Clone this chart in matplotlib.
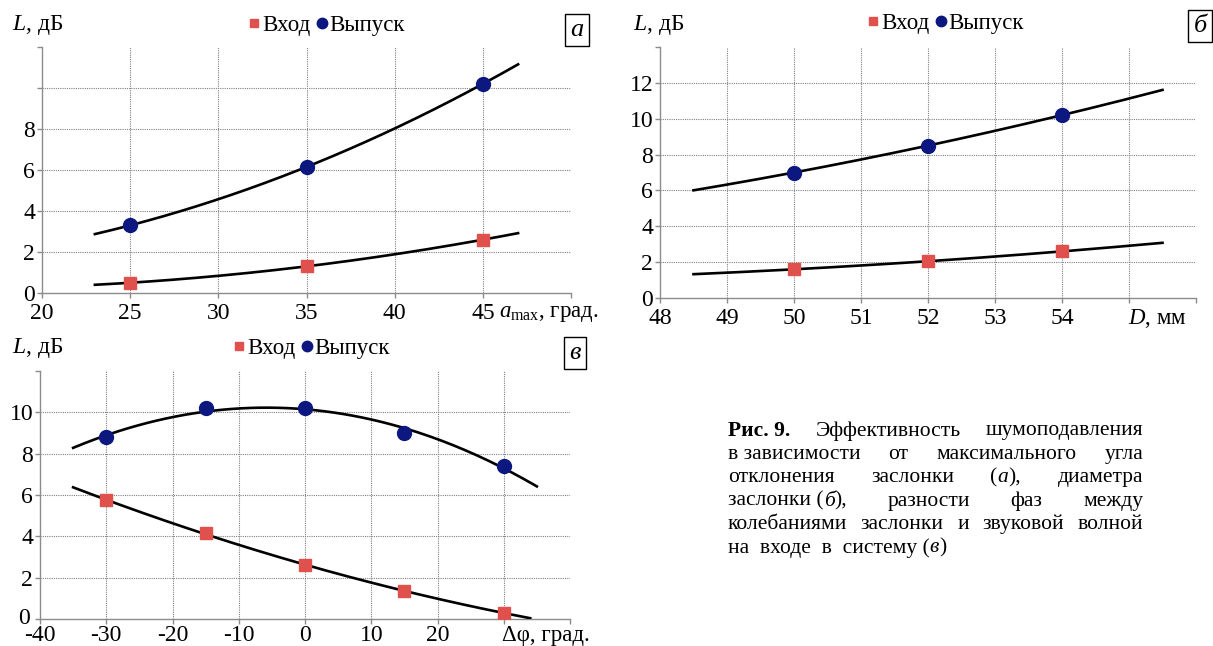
import matplotlib
matplotlib.use('Agg')
import matplotlib.pyplot as plt
import matplotlib.transforms as mtransforms
import numpy as np

plt.rcParams['font.family'] = ['Liberation Serif', 'DejaVu Serif']
plt.rcParams['mathtext.fontset'] = 'custom'
plt.rcParams['mathtext.rm'] = 'Liberation Serif'
plt.rcParams['mathtext.it'] = 'Liberation Serif:italic'
plt.rcParams['mathtext.bf'] = 'Liberation Serif:bold'

W, H = 1213, 646

# --- данные (а): угол отклонения заслонки
a_x = [25, 35, 45]
a_vhod = [0.5, 1.3, 2.6]
a_vypusk = [3.3, 6.15, 10.2]

# --- данные (б): диаметр заслонки
b_x = [50, 52, 54]
b_vhod = [1.6, 2.05, 2.6]
b_vypusk = [7.0, 8.5, 10.2]

# --- данные (в): разность фаз
v_x = [-30, -15, 0, 15, 30]
v_vhod = [5.75, 4.15, 2.6, 1.35, 0.3]
v_vypusk = [8.8, 10.2, 10.2, 9.0, 7.4]

caption = [
    ["**Рис. 9.**", "Эффективность", "шумоподавления"],
    ["в зависимости", "от", "максимального", "угла"],
    ["отклонения", "заслонки", "(а),", "диаметра"],
    ["заслонки (б),", "разности", "фаз", "между"],
    ["колебаниями", "заслонки", "и", "звуковой", "волной"],
    ["на  входе  в  систему (в)"],
]

RED = '#e0504c'
NAVY = '#0c1780'
GRIDC = '#808080'
SPINE = '#8c8c8c'


def px(x, y):
    return x / W, 1 - y / H


fig = plt.figure(figsize=(W / 100, H / 100), dpi=100)


def panel(rect, xs, vh, vy, xlim, ylim, xticks, yticks, xlab_n, ylab_n,
          trend_lo, trend_hi, trend_hi2=None, xpad=4):
    ax = fig.add_axes(rect)
    ax.set_xlim(*xlim)
    ax.set_ylim(*ylim)
    ax.set_xticks(xticks)
    ax.set_yticks(yticks)
    ax.set_xticklabels([str(t) if i < xlab_n else '' for i, t in enumerate(xticks)])
    ax.set_yticklabels([str(t) if i < ylab_n else '' for i, t in enumerate(yticks)])
    ax.grid(True, color=GRIDC, linestyle=(0, (1, 1)), linewidth=0.8)
    ax.get_ygridlines()[-1].set_visible(False)
    ax.get_xgridlines()[-1].set_visible(False)
    ax.get_xgridlines()[0].set_visible(False)
    ax.get_ygridlines()[0].set_visible(False)
    for s in ['top', 'right']:
        ax.spines[s].set_visible(False)
    for s in ['left', 'bottom']:
        ax.spines[s].set_color(SPINE)
        ax.spines[s].set_linewidth(1.0)
    ax.tick_params(colors=SPINE, labelcolor='black', labelsize=17, length=3.5,
                   width=1.0)
    ax.tick_params(axis='x', pad=xpad)
    ax.tick_params(axis='y', pad=1.5)

    # линии тренда (полином 2-й степени)
    p1 = np.polyfit(xs, vh, 2)
    p2 = np.polyfit(xs, vy, 2)
    hi1 = trend_hi2 if trend_hi2 is not None else trend_hi
    t1 = np.linspace(trend_lo, hi1, 200)
    t2 = np.linspace(trend_lo, trend_hi, 200)
    ax.plot(t1, np.polyval(p1, t1), color='black', lw=1.9, zorder=3)
    ax.plot(t2, np.polyval(p2, t2), color='black', lw=1.9, zorder=3)

    h1, = ax.plot(xs, vh, 's', color=RED, ms=8.5, zorder=4, label='Вход')
    h2, = ax.plot(xs, vy, 'o', color=NAVY, ms=10, zorder=4, label='Выпуск')
    return ax, h1, h2


def legend(ax, h1, h2, cx, cy):
    ax.legend([h1, h2], ['Вход', 'Выпуск'], loc='center', bbox_to_anchor=px(cx, cy),
              bbox_transform=fig.transFigure, ncol=2, frameon=False,
              handletextpad=0.05, columnspacing=0.2, handlelength=0.6,
              markerscale=0.75, fontsize=16.5, borderpad=0)


def boxlabel(s, cx, cy):
    fig.text(*px(cx, cy), s, fontsize=19, fontstyle='italic', ha='center', va='center',
             bbox=dict(boxstyle='square,pad=0.2', fc='white', ec='black', lw=1.0))


# (а)
ax, h1, h2 = panel([*px(42, 293), (571 - 42) / W, (293 - 47) / H],
                   a_x, a_vhod, a_vypusk, (20, 50), (0, 12),
                   [20, 25, 30, 35, 40, 45, 50], [0, 2, 4, 6, 8, 10, 12], 6, 5, 23, 47)
legend(ax, h1, h2, 326, 25)
fig.text(*px(12, 25), '$L$, дБ', fontsize=17, va='center', ha='left')
fig.text(*px(499, 313), r'$a_{\mathrm{max}}$, град.', fontsize=16.5, va='center', ha='left')
boxlabel('а', 577, 30)

# (б)
ax, h1, h2 = panel([*px(660, 298), (1196 - 660) / W, (298 - 47) / H],
                   b_x, b_vhod, b_vypusk, (48, 56), (0, 14),
                   [48, 49, 50, 51, 52, 53, 54, 55, 56], [0, 2, 4, 6, 8, 10, 12, 14],
                   7, 7, 48.5, 55.5)
legend(ax, h1, h2, 945, 23)
fig.text(*px(633, 25), '$L$, дБ', fontsize=17, va='center', ha='left')
fig.text(*px(1128, 318), '$D$, мм', fontsize=16.5, va='center', ha='left')
boxlabel('б', 1200, 26)

# (в)
ax, h1, h2 = panel([*px(40, 619), (570 - 40) / W, (619 - 371) / H],
                   v_x, v_vhod, v_vypusk, (-40, 40), (0, 12),
                   [-40, -30, -20, -10, 0, 10, 20, 30, 40], [0, 2, 4, 6, 8, 10, 12],
                   7, 6, -35, 35, trend_hi2=34, xpad=1)
# ноль по оси y чуть левее и выше, чтобы не налезал на "-40"
zero_lbl = ax.get_yticklabels()[0]
zero_lbl.set_transform(zero_lbl.get_transform() +
                       mtransforms.ScaledTranslation(-3 / 100, 3 / 100, fig.dpi_scale_trans))
legend(ax, h1, h2, 311, 348)
fig.text(*px(12, 348), '$L$, дБ', fontsize=17, va='center', ha='left')
fig.text(*px(502, 635), 'Δφ, град.', fontsize=16.5, va='center', ha='left')
boxlabel('в', 575, 353)

# подпись рисунка (выравнивание по ширине)
renderer = fig.canvas.get_renderer()
CAP_FS = 15.5
X0, X1 = 728, 1143
Y0, DY = 431, 23.4


def pieces(word):
    if word.startswith('**'):
        return [(word.strip('*'), 'normal', 'bold')]
    out = []
    buf = ''
    i = 0
    while i < len(word):
        c = word[i]
        if c == '(' and i + 2 < len(word) and word[i + 2] == ')':
            out.append((buf + '(', 'normal', 'normal'))
            out.append((word[i + 1], 'italic', 'normal'))
            buf = ''
            i += 2
            continue
        buf += c
        i += 1
    if buf:
        out.append((buf, 'normal', 'normal'))
    return out


def width(s, style, weight):
    t = fig.text(0, 0, s, fontsize=CAP_FS, fontstyle=style, fontweight=weight)
    w = t.get_window_extent(renderer).width
    t.remove()
    return w


space_w = width('a a', 'normal', 'normal') - width('aa', 'normal', 'normal')
for li, line in enumerate(caption):
    y = Y0 + li * DY
    toks = [pieces(w) for w in line]
    widths = [[width(s, st, wt) for s, st, wt in tk] for tk in toks]
    total = sum(sum(w) for w in widths)
    justify = li < len(caption) - 1 and len(toks) > 1
    gap = (X1 - X0 - total) / (len(toks) - 1) if justify else space_w
    x = X0
    for tk, ws in zip(toks, widths):
        for (s, st, wt), w in zip(tk, ws):
            fig.text(*px(x, y), s, fontsize=CAP_FS, fontstyle=st, fontweight=wt,
                     va='center', ha='left')
            x += w
        x += gap

fig.savefig('out.png', dpi=100)
